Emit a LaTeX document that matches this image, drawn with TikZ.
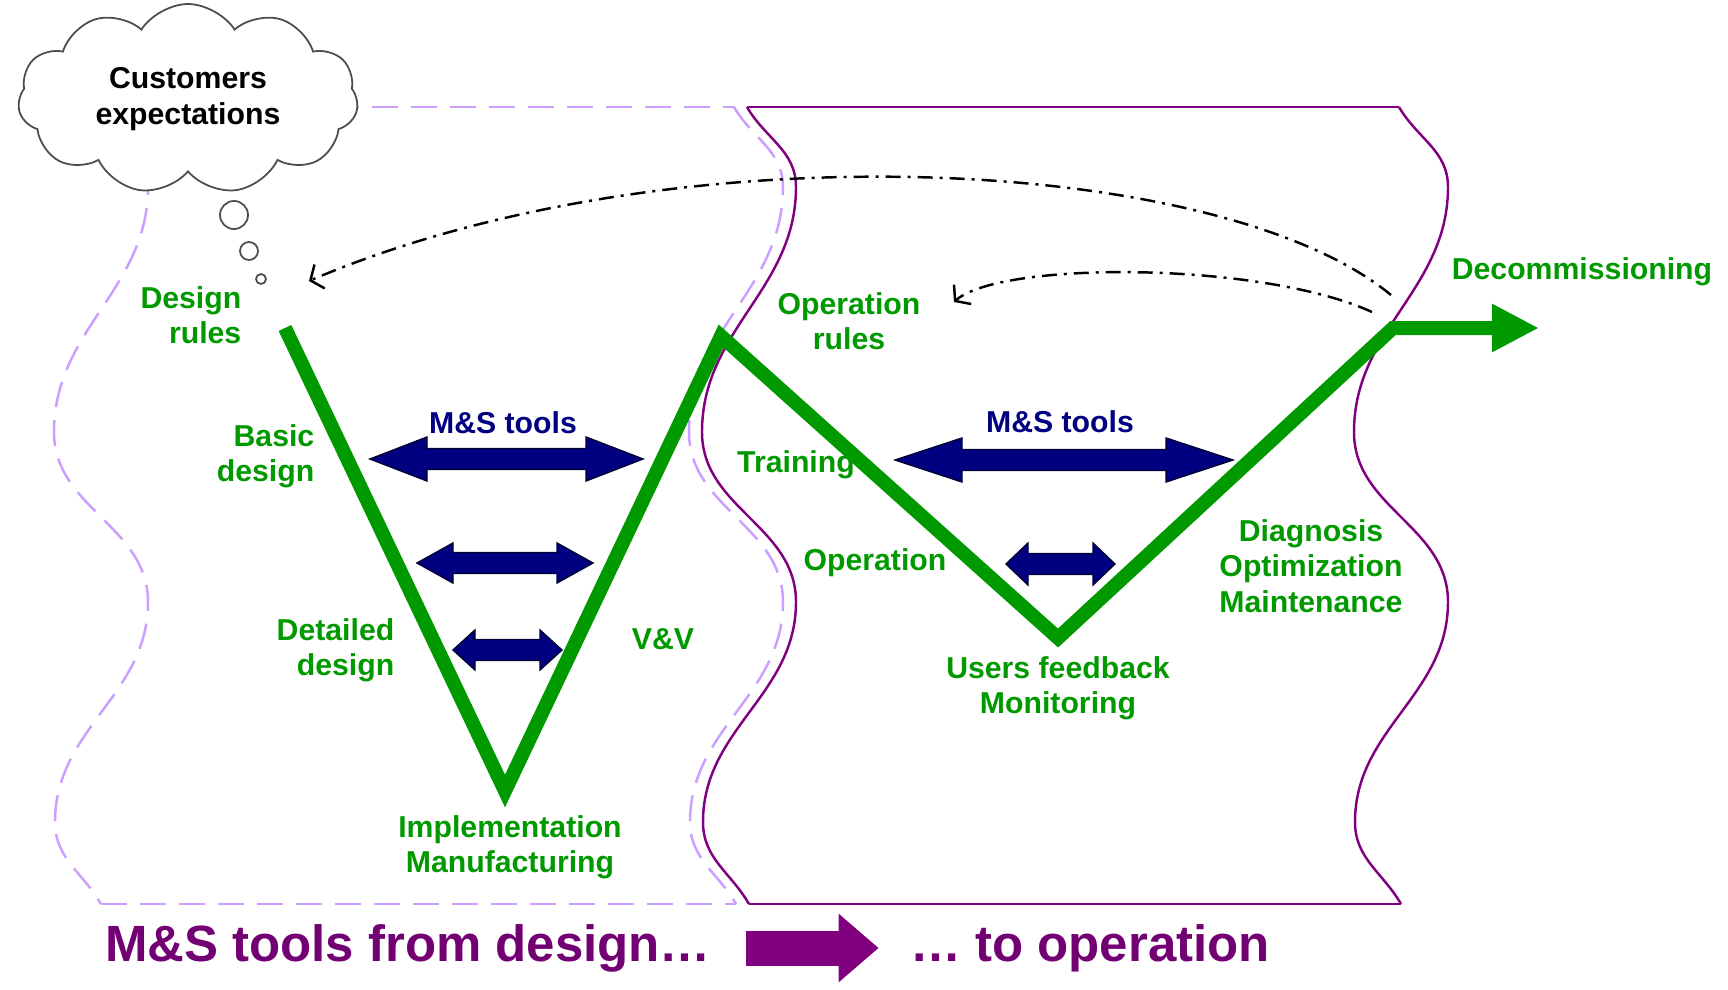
\documentclass[tikz,border=0pt]{standalone}
\usepackage{fontspec}
\setmainfont{Liberation Sans}
\usepackage{tikz}
\usetikzlibrary{arrows.meta,shapes.symbols,positioning}
\definecolor{vgreen}{rgb}{0.0, 0.6, 0.0}
\definecolor{msnavy}{rgb}{0.0, 0.0, 0.5}
\definecolor{opPurple}{rgb}{0.5, 0.0, 0.5}
\definecolor{desLavender}{rgb}{0.8, 0.62, 1.0}

\begin{document}
\begin{tikzpicture}[
	labelStyle/.style={font=\fontsize{8.6}{10.1}\selectfont\bfseries, text=vgreen, align=center, inner sep=0pt},
	toolStyle/.style={font=\fontsize{8.6}{10.1}\selectfont\bfseries, text=msnavy, inner sep=0pt},
	titleStyle/.style={font=\fontsize{14.5}{17}\selectfont\bfseries, text=opPurple!90!black, inner sep=0pt},
	cloudStyle/.style={cloud, cloud puffs=11, cloud puff arc=115, cloud ignores aspect, draw=black!70, fill=white, line width=0.5pt, minimum width=3.4cm, minimum height=1.9cm, inner sep=0pt, align=center, font=\fontsize{8.6}{10.1}\selectfont\bfseries},
	bubbleStyle/.style={circle, draw=black!70, fill=white, line width=0.5pt, inner sep=0pt},
	lavEdge/.style={draw=desLavender, line width=0.7pt, dash pattern=on 2.6mm off 1.3mm},
	purpleEdge/.style={draw=opPurple, line width=0.7pt},
	vStyle/.style={draw=vgreen, line width=1.4mm, -{Triangle[length=4.7mm, width=4.5mm]}},
	blueArrow/.style={fill=msnavy, draw=black!60!msnavy, line width=0.4pt},
	dashDotStyle/.style={draw=black, line width=0.7pt, dash pattern=on 1.5mm off 0.7mm on 0.3mm off 0.7mm, -{Straight Barb[length=1mm, width=2.6mm]}},]
	
	\useasboundingbox (0,0) rectangle (17.28,9.89);
	
	% design area (dashed) and operation area (solid)
	\draw[lavEdge] (0.99,8.82) -- (7.34,8.82);
	\draw[lavEdge] (1.01,0.85) -- (7.36,0.85);
	\foreach \x in {0.99,7.34}
	\draw[lavEdge] (\x,8.82) to[out=-60,in=90] ++(0.49,-0.80) to[out=-90,in=90] ++(-0.94,-2.45) to[out=-90,in=90] ++(0.94,-1.70) to[out=-90,in=90] ++(-0.93,-2.20) to[out=-90,in=120] ++(0.46,-0.82);
	
	\draw[purpleEdge] (7.47,8.82) -- (13.99,8.82);
	\draw[purpleEdge] (7.49,0.85) -- (14.01,0.85);
	\foreach \x in {7.47,13.99}
	\draw[purpleEdge] (\x,8.82) to[out=-60,in=90] ++(0.49,-0.80) to[out=-90,in=90] ++(-0.94,-2.45) to[out=-90,in=90] ++(0.94,-1.70) to[out=-90,in=90] ++(-0.93,-2.20) to[out=-90,in=120] ++(0.46,-0.82);
	
	% thought cloud
	\node[cloudStyle] (cloud) at (1.88,8.90) {Customers\\expectations};
	\foreach \bx/\by/\bs [count=\i] in {2.34/7.74/0.28, 2.49/7.38/0.18, 2.61/7.10/0.10}
	\node[bubbleStyle, minimum size=\bs cm] (bub\i) at (\bx,\by) {};
	
	% the V line
	\coordinate (v1) at (2.85,6.61);
	\coordinate (v2) at (5.05,1.98);
	\coordinate (v3) at (7.21,6.53);
	\coordinate (v4) at (10.58,3.51);
	\coordinate (v5) at (13.93,6.61);
	\coordinate (v6) at (15.39,6.61);
	\draw[vStyle] (v1) -- (v2) -- (v3) -- (v4) -- (v5) -- (v6);
	
	% M&S tools arrows
	\foreach \xl/\xr/\yc/\hl/\hh in {3.70/6.43/5.30/0.57/0.22, 4.17/5.93/4.26/0.36/0.20, 4.53/5.62/3.39/0.22/0.20, 8.95/12.33/5.29/0.67/0.22, 10.06/11.15/4.25/0.22/0.21}
	\draw[blueArrow] (\xl,\yc) -- ({\xl+\hl},{\yc+\hh}) -- ({\xl+\hl},{\yc+0.105}) -- ({\xr-\hl},{\yc+0.105}) -- ({\xr-\hl},{\yc+\hh}) -- (\xr,\yc) -- ({\xr-\hl},{\yc-\hh}) -- ({\xr-\hl},{\yc-0.105}) -- ({\xl+\hl},{\yc-0.105}) -- ({\xl+\hl},{\yc-\hh}) -- cycle;
	
	\node[toolStyle] (tools1) at (5.03,5.66) {M\&S tools};
	\node[toolStyle] (tools2) at (10.60,5.67) {M\&S tools};
	
	% labels
	\node[labelStyle, align=right, anchor=east] (desrules) at (2.42,6.74) {Design\\rules};
	\node[labelStyle, align=right, anchor=east] (basic) at (3.15,5.33) {Basic\\design};
	\node[labelStyle, align=right, anchor=east] (detailed) at (3.95,3.39) {Detailed\\design};
	\node[labelStyle] (vv) at (6.63,3.50) {V\&V};
	\node[labelStyle] (impl) at (5.10,1.42) {Implementation\\Manufacturing};
	\node[labelStyle] (oprules) at (8.49,6.68) {Operation\\rules};
	\node[labelStyle] (training) at (7.96,5.24) {Training};
	\node[labelStyle] (operation) at (8.75,4.26) {Operation};
	\node[labelStyle] (users) at (10.58,3.01) {Users feedback\\Monitoring};
	\node[labelStyle] (diag) at (13.11,4.23) {Diagnosis\\Optimization\\Maintenance};
	\node[labelStyle] (decom) at (15.82,7.17) {Decommissioning};
	
	% feedback loops
	\coordinate (longFrom) at (13.91,6.94);
	\coordinate (longTo) at (3.09,7.08);
	\coordinate (shortFrom) at (13.72,6.77);
	\coordinate (shortTo) at (9.54,6.87);
	\draw[dashDotStyle] (longFrom) .. controls (12.2,8.35) and (6.7,8.62) .. (longTo);
	\draw[dashDotStyle] (shortFrom) .. controls (12.6,7.28) and (10.0,7.28) .. (shortTo);
	
	% title
	\node[titleStyle] (title1) at (4.08,0.41) {M\&S tools from design…};
	\node[titleStyle, right=1.98cm of title1] (title2) {… to operation};
	\draw[opPurple, line width=3.5mm, shorten <=3.4mm, shorten >=3.1mm, -{Triangle[length=4mm, width=6.6mm]}] (title1) -- (title2);
\end{tikzpicture}
\end{document}
